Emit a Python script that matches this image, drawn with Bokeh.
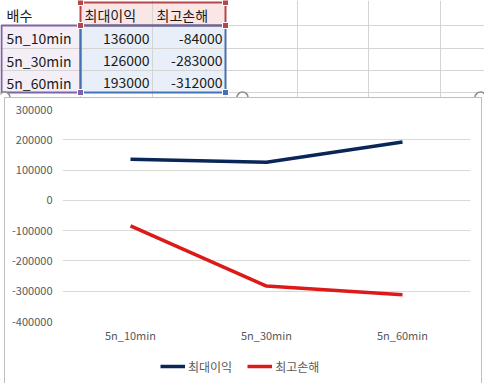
from bokeh.plotting import figure
from bokeh.models import (Range1d, FactorRange, FixedTicker, NumeralTickFormatter,
                          Legend, LegendItem, ColumnDataSource)
from bokeh.core.properties import value
from bokeh.embed import file_html
from bokeh.resources import INLINE

# ---- data ----
header_label = "배수"
series_names = ["최대이익", "최고손해"]
categories = ["5n_10min", "5n_30min", "5n_60min"]
max_profit = [136000, 126000, 193000]
max_loss = [-84000, -283000, -312000]
y_ticks = [300000, 200000, 100000, 0, -100000, -200000, -300000, -400000]

FONT = "Noto Sans CJK KR"
W = 484
TH = 97
NAVY = "#0a2557"
RED = "#dc1a1a"

# ---- spreadsheet part ----
col_edges = [0, 80, 152, 225, 297, 368, 440, 484]
row_edges = [2, 25, 48, 70, 92]
t = figure(width=W, height=TH, x_range=Range1d(0, W), y_range=Range1d(TH, 0),
           x_axis_type=None, y_axis_type=None, toolbar_location=None,
           output_backend="svg", min_border=0, min_border_left=0, min_border_right=0,
           min_border_top=0, min_border_bottom=0, outline_line_color=None)
t.grid.visible = False
t.quad(left=[0], right=[col_edges[1]], top=[row_edges[1]], bottom=[row_edges[4]],
       fill_color="#f4eff7", line_color=None)
t.quad(left=[col_edges[1]], right=[col_edges[3]], top=[row_edges[0]], bottom=[row_edges[1]],
       fill_color="#fbe6e6", line_color=None)
t.quad(left=[col_edges[1]], right=[col_edges[3]], top=[row_edges[1]], bottom=[row_edges[4]],
       fill_color="#e9eff8", line_color=None)
nv = len(col_edges) - 2
t.segment(x0=col_edges[1:-1], y0=[0]*nv, x1=col_edges[1:-1], y1=[TH]*nv,
          line_color="#d4d4d4", line_width=1)
t.segment(x0=[0]*4, y0=row_edges[1:], x1=[W]*4, y1=row_edges[1:],
          line_color="#d4d4d4", line_width=1)
t.quad(left=[1], right=[col_edges[1]], top=[row_edges[1]], bottom=[row_edges[4]],
       fill_color=None, line_color="#8064a2", line_width=2)
t.quad(left=[col_edges[1]], right=[col_edges[3]], top=[row_edges[0]], bottom=[row_edges[1]],
       fill_color=None, line_color="#b5474b", line_width=2)
t.quad(left=[col_edges[1]], right=[col_edges[3]], top=[row_edges[1]], bottom=[row_edges[4]],
       fill_color=None, line_color="#4672b4", line_width=2)
t.scatter(x=[col_edges[1], col_edges[1]], y=[row_edges[1], row_edges[4]], marker="square",
          size=6, fill_color="#8064a2", line_color="white")
t.scatter(x=[col_edges[1], col_edges[3], col_edges[1], col_edges[3]],
          y=[row_edges[0], row_edges[0], row_edges[1], row_edges[1]], marker="square",
          size=6, fill_color="#b5474b", line_color="white")
t.scatter(x=[col_edges[3]], y=[row_edges[4]], marker="square",
          size=6, fill_color="#4672b4", line_color="white")
t.scatter(x=[4, 242, 480], y=[TH, TH, TH], marker="circle", size=11,
          fill_color="white", line_color="#8c8c8c", line_width=1.5)
mid = [(row_edges[i] + row_edges[i + 1]) / 2 + 1 for i in range(4)]
t.text(x=[6], y=[mid[0]], text=[header_label], text_baseline="middle",
       text_font=value(FONT), text_font_size="14px", text_color="#1a1a1a")
t.text(x=[col_edges[1] + 4, col_edges[2] + 4], y=[mid[0]] * 2, text=series_names,
       text_baseline="middle", text_font=value(FONT), text_font_size="14px", text_color="#1a1a1a")
t.text(x=[6] * 3, y=mid[1:], text=categories, text_baseline="middle",
       text_font=value(FONT), text_font_size="14px", text_color="#1a1a1a")
t.text(x=[col_edges[2] - 3] * 3, y=mid[1:], text=[str(v) for v in max_profit],
       text_baseline="middle", text_align="right",
       text_font=value(FONT), text_font_size="14px", text_color="#1a1a1a")
t.text(x=[col_edges[3] - 3] * 3, y=mid[1:], text=[str(v) for v in max_loss],
       text_baseline="middle", text_align="right",
       text_font=value(FONT), text_font_size="14px", text_color="#1a1a1a")

# ---- chart ----
CW = 478
p = figure(width=CW, height=256, x_range=FactorRange(*categories),
           y_range=Range1d(-400000, 300000), toolbar_location=None,
           output_backend="svg", min_border_left=58, min_border_right=12,
           min_border_top=12, min_border_bottom=32, outline_line_color=None,
           background_fill_color=None, border_fill_color=None,
           styles={"margin-left": "4px",
                   "box-shadow": "inset 1px 1px 0 0 #bfbfbf, inset -1px 0 0 0 #bfbfbf"})
src = ColumnDataSource(dict(cat=categories, prof=max_profit, loss=max_loss))
p.line(x="cat", y="prof", source=src, line_color=NAVY, line_width=3.5)
p.line(x="cat", y="loss", source=src, line_color=RED, line_width=3.5)

p.yaxis.ticker = FixedTicker(ticks=y_ticks)
p.yaxis.formatter = NumeralTickFormatter(format="0")
p.ygrid.ticker = FixedTicker(ticks=y_ticks)
p.ygrid.grid_line_color = "#d9d9d9"
p.xgrid.visible = False
for ax in (p.xaxis[0], p.yaxis[0]):
    ax.axis_line_color = None
    ax.major_tick_line_color = None
    ax.minor_tick_line_color = None
    ax.major_tick_out = 0
    ax.major_tick_in = 0
    ax.major_label_text_color = "#595959"
    ax.major_label_text_font = FONT
    ax.major_label_text_font_size = "11px"
p.xaxis.major_label_standoff = 5
p.yaxis.major_label_standoff = 10

# ---- legend strip (same chart box, below the axis) ----
# the series are drawn here too, but the y range keeps them out of view:
# only their legend keys show
lg = figure(width=CW, height=30, x_range=FactorRange(*categories),
            y_range=Range1d(1e9, 1e9 + 1),
            x_axis_type=None, y_axis_type=None, toolbar_location=None,
            output_backend="svg", min_border=0, min_border_left=0, min_border_right=0,
            min_border_top=0, min_border_bottom=0, outline_line_color=None,
            background_fill_color=None, border_fill_color=None,
            styles={"margin-left": "4px",
                    "box-shadow": "inset 1px 0 0 0 #bfbfbf, inset -1px 0 0 0 #bfbfbf"})
lg.grid.visible = False
k1 = lg.line(x="cat", y="prof", source=src, line_color=NAVY, line_width=3.5)
k2 = lg.line(x="cat", y="loss", source=src, line_color=RED, line_width=3.5)
legend = Legend(items=[LegendItem(label=series_names[0], renderers=[k1]),
                       LegendItem(label=series_names[1], renderers=[k2])],
                orientation="horizontal", location=(156, 7),
                border_line_color=None, background_fill_alpha=0,
                label_text_font=FONT, label_text_font_size="12px",
                label_text_color="#595959", glyph_width=25, spacing=15,
                padding=2, margin=0, label_standoff=3)
lg.add_layout(legend)

open("out.html", "w").write(file_html([t, p, lg], INLINE))
